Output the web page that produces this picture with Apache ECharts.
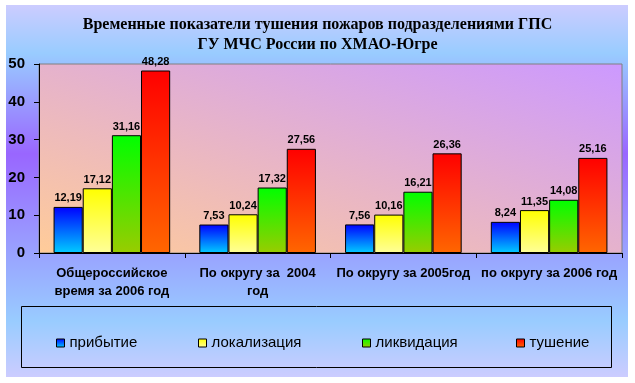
<!DOCTYPE html>
<html>
<head>
<meta charset="utf-8">
<script src="https://cdn.jsdelivr.net/npm/echarts@6/dist/echarts.min.js"></script>
<style>
html,body{margin:0;padding:0;background:#fff;}
#c{width:635px;height:383px;}
</style>
</head>
<body>
<div id="c"></div>
<script>
const titleLines = ['Временные показатели тушения пожаров подразделениями ГПС', 'ГУ МЧС России по ХМАО-Югре'];
const categories = ['Общероссийское\nвремя за 2006 год', 'По округу за  2004\nгод', 'По округу за 2005год', 'по округу за 2006 год'];
const seriesNames = ['прибытие', 'локализация', 'ликвидация', 'тушение'];
const arrival = [12.19, 7.53, 7.56, 8.24];
const localization = [17.12, 10.24, 10.16, 11.35];
const liquidation = [31.16, 17.32, 16.21, 14.08];
const extinguish = [48.28, 27.56, 26.36, 25.16];
const yTicks = [0, 10, 20, 30, 40, 50];

const seriesValues = [arrival, localization, liquidation, extinguish];
const gradients = [
  ['#0000ff', '#00ccff'],
  ['#ffff00', '#ffff99'],
  ['#00ff00', '#99cc00'],
  ['#ff0000', '#ff6600']
];
const legendLefts = [51, 193, 357, 511];

function vgrad(c) {
  return new echarts.graphic.LinearGradient(0, 0, 0, 1, [
    {offset: 0, color: c[0]}, {offset: 1, color: c[1]}
  ]);
}

// plot area: left 39, top 64, right 622, bottom 253
const gL = 39, gT = 64, gR = 622, gB = 253;
const gw = gR - gL, gh = gB - gT;
const glen = Math.sqrt(gw * gw + gh * gh);
const proj = 2 * gw * gh / glen;
const plotGrad = new echarts.graphic.LinearGradient(
  gL, gB, gL + proj * gh / glen, gB - proj * gw / glen,
  [{offset: 0, color: '#ffcc99'}, {offset: 1, color: '#cc99ff'}], true);

const chart = echarts.init(document.getElementById('c'), null, {renderer: 'canvas'});
const option = {
  animation: false,
  title: {
    text: titleLines.join('\n'),
    left: 'center',
    top: 10,
    textStyle: {
      fontFamily: 'Liberation Serif',
      fontWeight: 'bold',
      fontSize: 16,
      lineHeight: 20,
      color: '#000'
    }
  },
  graphic: [
    {
      type: 'rect', z: -100, silent: true,
      shape: {x: 6, y: 5, width: 622, height: 372},
      style: {
        fill: new echarts.graphic.LinearGradient(0, 0, 0, 1, [
          {offset: 0, color: '#ccccff'},
          {offset: 0.13, color: '#99ccff'},
          {offset: 0.4, color: '#9966ff'},
          {offset: 0.85, color: '#99ccff'},
          {offset: 1, color: '#ccccff'}
        ])
      }
    },
    {
      type: 'rect', z: 10, silent: true,
      shape: {x: 21.5, y: 306.5, width: 590, height: 61},
      style: {fill: 'none', stroke: '#000', lineWidth: 1}
    }
  ],
  legend: seriesNames.map((n, i) => ({
    data: [n],
    left: legendLefts[i],
    top: 329,
    itemWidth: 8,
    itemHeight: 8,
    itemGap: 5,
    icon: 'rect',
    itemStyle: {borderColor: '#000', borderWidth: 1},
    textStyle: {fontFamily: 'Liberation Sans', fontSize: 15, color: '#000', lineHeight: 18}
  })),
  grid: {
    left: gL, right: 635 - gR, top: gT, bottom: 383 - gB,
    show: true,
    borderColor: '#808080',
    borderWidth: 1,
    backgroundColor: plotGrad
  },
  xAxis: {
    type: 'category',
    data: categories,
    axisLine: {lineStyle: {color: '#000', width: 1}},
    axisTick: {show: true, length: 5, interval: 0, lineStyle: {color: '#000'}},
    axisLabel: {
      interval: 0,
      margin: 11,
      fontFamily: 'Liberation Sans',
      fontWeight: 'bold',
      fontSize: 13,
      lineHeight: 18,
      color: '#000'
    }
  },
  yAxis: {
    type: 'value',
    min: yTicks[0],
    max: yTicks[yTicks.length - 1],
    interval: 10,
    axisLine: {show: true, lineStyle: {color: '#000', width: 1}},
    axisTick: {show: true, length: 5, lineStyle: {color: '#000'}},
    splitLine: {show: false},
    axisLabel: {
      margin: 14,
      fontFamily: 'Liberation Sans',
      fontWeight: 'bold',
      fontSize: 15,
      color: '#000'
    }
  },
  series: seriesNames.map((n, i) => ({
    name: n,
    type: 'bar',
    data: seriesValues[i],
    barGap: '0%',
    barCategoryGap: '20%',
    itemStyle: {color: vgrad(gradients[i]), borderColor: '#000', borderWidth: 1},
    label: {
      show: true,
      position: 'top',
      distance: 3,
      fontFamily: 'Liberation Sans',
      fontWeight: 'bold',
      fontSize: 11,
      color: '#000',
      formatter: p => p.value.toFixed(2).replace('.', ',')
    }
  }))
};
chart.setOption(option);
</script>
</body>
</html>
